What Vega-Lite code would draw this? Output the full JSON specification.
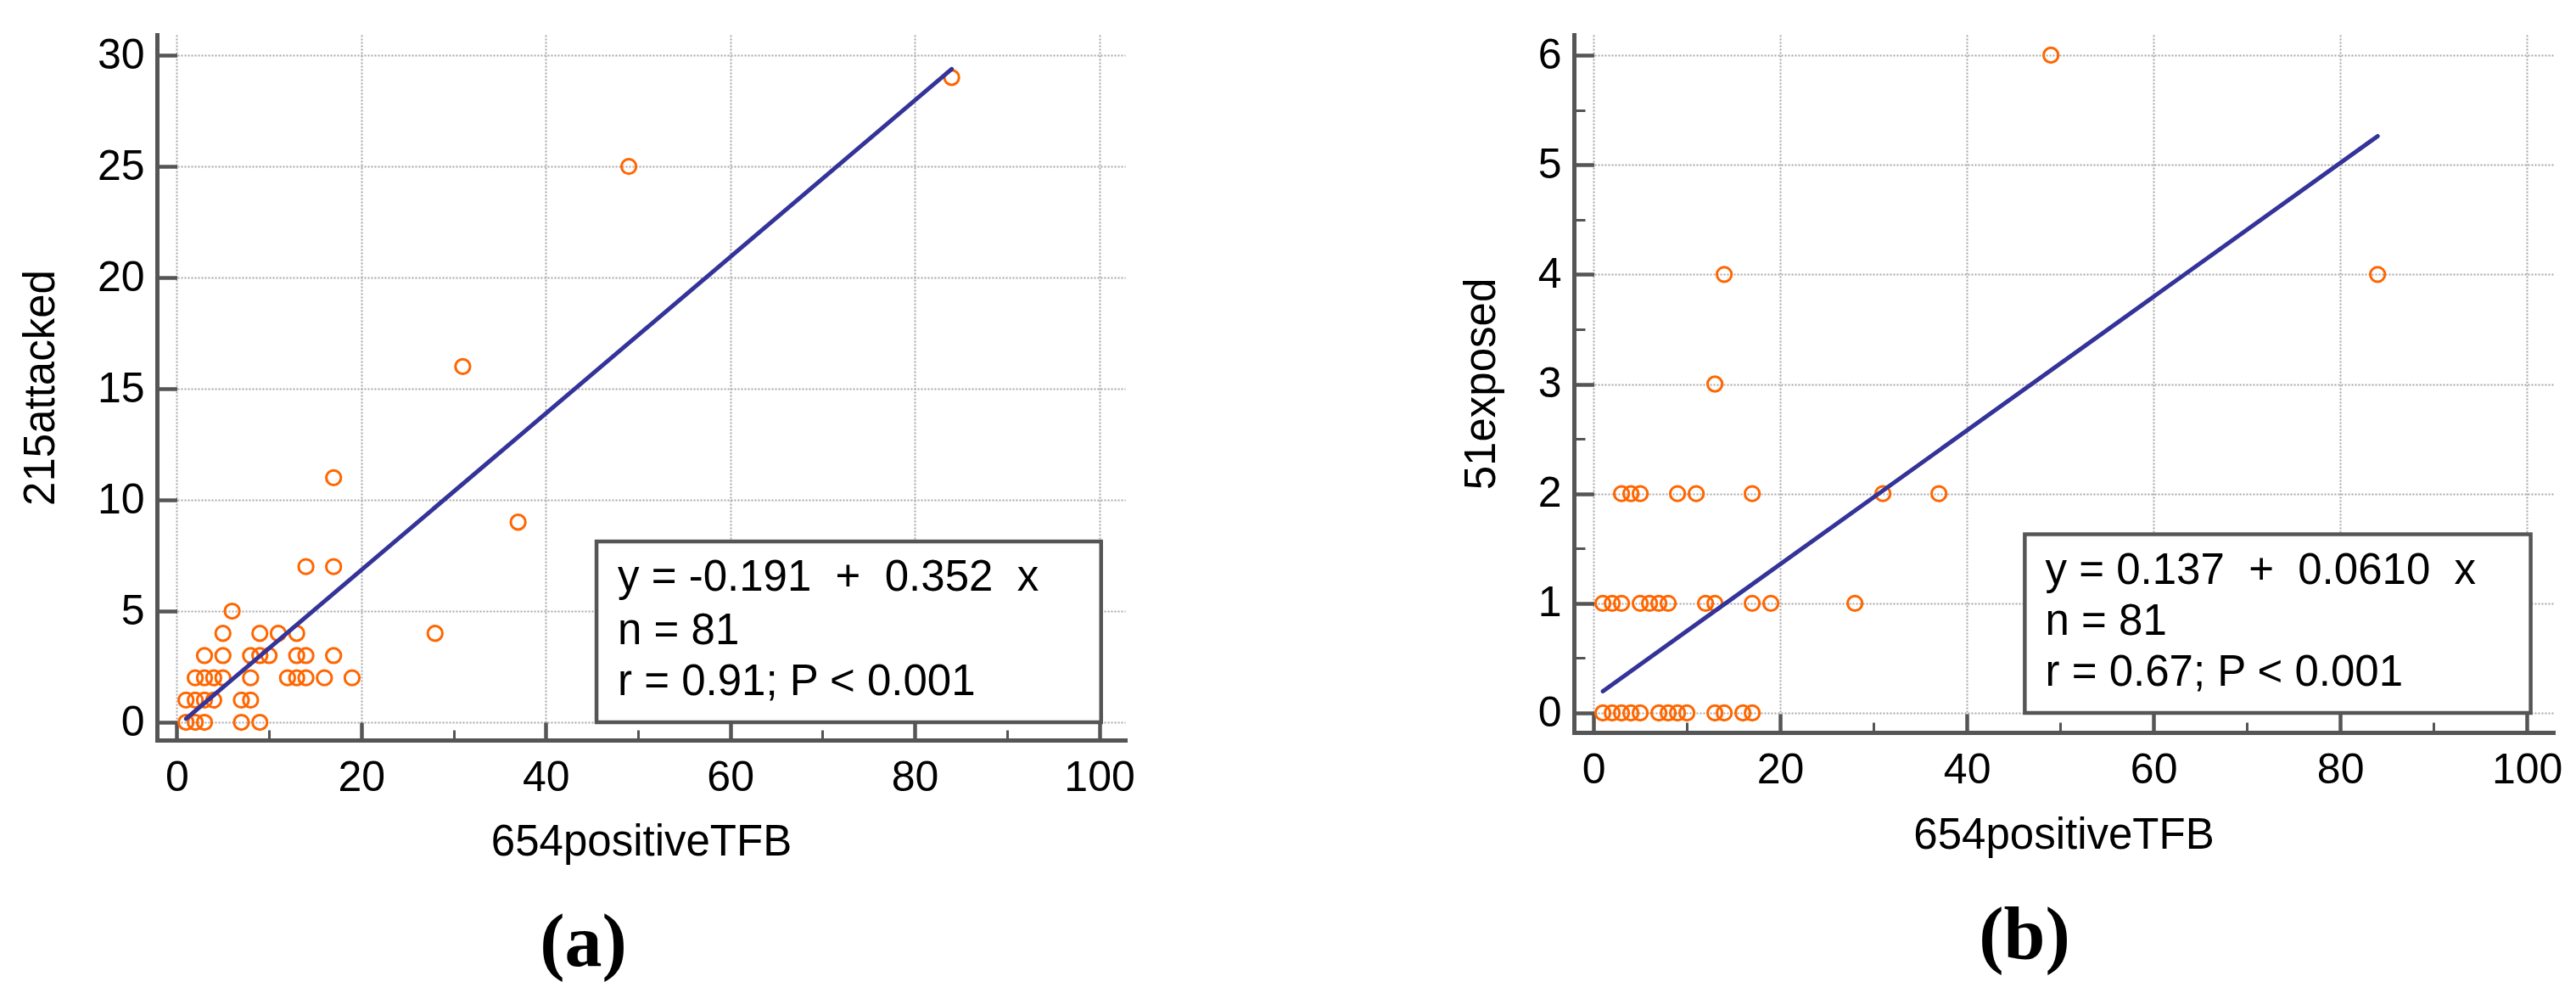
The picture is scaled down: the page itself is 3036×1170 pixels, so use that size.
{
  "$schema": "https://vega.github.io/schema/vega-lite/v6.json",
  "background": "white",
  "padding": {"left": 22, "top": 40, "right": 5, "bottom": 5},
  "bounds": "flush",
  "spacing": 529,
  "config": {
    "view": {"stroke": null},
    "axis": {
      "domainColor": "#555555", "domainWidth": 5, "domainCap": "square",
      "tickColor": "#555555",
      "gridColor": "#a8a8a8", "gridDash": [2, 2], "gridWidth": 2,
      "labelFont": "Liberation Sans", "labelFontSize": 50, "labelColor": "#000000",
      "titleFont": "Liberation Sans", "titleFontSize": 51, "titleFontWeight": "normal", "titleColor": "#000000",
      "labelFlush": false, "labelOverlap": false, "labelBound": false
    },
    "text": {"font": "Liberation Sans"}
  },
  "hconcat": [
    {
      "width": 1141,
      "height": 831,
      "title": {"text": "(a)", "orient": "bottom", "anchor": "middle", "frame": "group", "dx": -68, "offset": 50, "font": "Liberation Serif", "fontWeight": "bold", "fontSize": 88, "color": "#000000"},
      "layer": [
        {
          "data": {"values": [
            {"x": 84, "y": 29}, {"x": 49, "y": 25}, {"x": 31, "y": 16}, {"x": 37, "y": 9}, {"x": 17, "y": 11},
            {"x": 14, "y": 7}, {"x": 17, "y": 7}, {"x": 28, "y": 4}, {"x": 6, "y": 5},
            {"x": 5, "y": 4}, {"x": 9, "y": 4}, {"x": 11, "y": 4}, {"x": 13, "y": 4},
            {"x": 3, "y": 3}, {"x": 5, "y": 3}, {"x": 8, "y": 3}, {"x": 9, "y": 3}, {"x": 10, "y": 3}, {"x": 13, "y": 3}, {"x": 14, "y": 3}, {"x": 17, "y": 3},
            {"x": 2, "y": 2}, {"x": 3, "y": 2}, {"x": 4, "y": 2}, {"x": 5, "y": 2}, {"x": 8, "y": 2}, {"x": 12, "y": 2}, {"x": 13, "y": 2}, {"x": 14, "y": 2}, {"x": 16, "y": 2}, {"x": 19, "y": 2},
            {"x": 1, "y": 1}, {"x": 2, "y": 1}, {"x": 3, "y": 1}, {"x": 4, "y": 1}, {"x": 7, "y": 1}, {"x": 8, "y": 1},
            {"x": 1, "y": 0}, {"x": 2, "y": 0}, {"x": 3, "y": 0}, {"x": 7, "y": 0}, {"x": 9, "y": 0}
          ]},
          "mark": {"type": "point", "shape": "circle", "filled": false, "stroke": "#ff6600", "strokeWidth": 3, "size": 300, "opacity": 1},
          "encoding": {
            "x": {"field": "x", "type": "quantitative",
              "scale": {"domain": [-2.15, 102.8], "nice": false, "zero": false},
              "axis": {"title": "654positiveTFB", "values": [0, 10, 20, 30, 40, 50, 60, 70, 80, 90, 100],
                "labelExpr": "datum.value % 20 == 0 ? datum.label : ''",
                "tickSize": {"condition": {"test": "datum.value % 20 != 0", "value": -12}, "value": -21},
                "tickWidth": {"condition": {"test": "datum.value % 20 != 0", "value": 3}, "value": 4.5},
                "gridOpacity": {"condition": {"test": "datum.value % 20 != 0", "value": 0}, "value": 1},
                "labelPadding": 40.5, "titlePadding": 17, "grid": true}},
            "y": {"field": "y", "type": "quantitative",
              "scale": {"domain": [-0.8, 30.92], "nice": false, "zero": false},
              "axis": {"title": "215attacked", "values": [0, 5, 10, 15, 20, 25, 30],
                "tickSize": -23.5, "tickWidth": 4.5, "labelPadding": 38.5, "titlePadding": 40, "grid": true}}
          }
        },
        {
          "data": {"values": [{"x": 1, "y": 0.161}, {"x": 84, "y": 29.377}]},
          "mark": {"type": "line", "color": "#333399", "strokeWidth": 5, "strokeCap": "round"},
          "encoding": {"x": {"field": "x", "type": "quantitative"}, "y": {"field": "y", "type": "quantitative"}}
        },
        {
          "data": {"values": [{"x": 45.5, "x2": 100.2, "y": 0, "y2": 8.13}]},
          "mark": {"type": "rect", "fill": "#ffffff", "stroke": "#555555", "strokeWidth": 4.5},
          "encoding": {"x": {"field": "x", "type": "quantitative"}, "x2": {"field": "x2"}, "y": {"field": "y", "type": "quantitative"}, "y2": {"field": "y2"}}
        },
        {
          "data": {"values": [
            {"x": 47.8, "y": 5.91, "label": "y = -0.191\u00a0 +\u00a0 0.352\u00a0 x"},
            {"x": 47.8, "y": 3.53, "label": "n = 81"},
            {"x": 47.8, "y": 1.24, "label": "r = 0.91; P < 0.001"}
          ]},
          "mark": {"type": "text", "align": "left", "baseline": "alphabetic", "fontSize": 51, "font": "Liberation Sans", "color": "#000000"},
          "encoding": {"x": {"field": "x", "type": "quantitative"}, "y": {"field": "y", "type": "quantitative"}, "text": {"field": "label"}}
        }
      ]
    },
    {
      "width": 1154,
      "height": 822,
      "title": {"text": "(b)", "orient": "bottom", "anchor": "middle", "frame": "group", "dx": -46, "offset": 50, "font": "Liberation Serif", "fontWeight": "bold", "fontSize": 88, "color": "#000000"},
      "layer": [
        {
          "data": {"values": [
            {"x": 49, "y": 6}, {"x": 84, "y": 4}, {"x": 14, "y": 4}, {"x": 13, "y": 3},
            {"x": 3, "y": 2}, {"x": 4, "y": 2}, {"x": 5, "y": 2}, {"x": 9, "y": 2}, {"x": 11, "y": 2}, {"x": 17, "y": 2}, {"x": 31, "y": 2}, {"x": 37, "y": 2},
            {"x": 1, "y": 1}, {"x": 2, "y": 1}, {"x": 3, "y": 1}, {"x": 5, "y": 1}, {"x": 6, "y": 1}, {"x": 7, "y": 1}, {"x": 8, "y": 1}, {"x": 12, "y": 1}, {"x": 13, "y": 1}, {"x": 17, "y": 1}, {"x": 19, "y": 1}, {"x": 28, "y": 1},
            {"x": 1, "y": 0}, {"x": 2, "y": 0}, {"x": 3, "y": 0}, {"x": 4, "y": 0}, {"x": 5, "y": 0}, {"x": 7, "y": 0}, {"x": 8, "y": 0}, {"x": 9, "y": 0}, {"x": 10, "y": 0}, {"x": 13, "y": 0}, {"x": 14, "y": 0}, {"x": 16, "y": 0}, {"x": 17, "y": 0}
          ]},
          "mark": {"type": "point", "shape": "circle", "filled": false, "stroke": "#ff6600", "strokeWidth": 3, "size": 300, "opacity": 1},
          "encoding": {
            "x": {"field": "x", "type": "quantitative",
              "scale": {"domain": [-2.1, 102.8], "nice": false, "zero": false},
              "axis": {"title": "654positiveTFB", "values": [0, 10, 20, 30, 40, 50, 60, 70, 80, 90, 100],
                "labelExpr": "datum.value % 20 == 0 ? datum.label : ''",
                "tickSize": {"condition": {"test": "datum.value % 20 != 0", "value": -12}, "value": -22},
                "tickWidth": {"condition": {"test": "datum.value % 20 != 0", "value": 3}, "value": 4.5},
                "gridOpacity": {"condition": {"test": "datum.value % 20 != 0", "value": 0}, "value": 1},
                "labelPadding": 41.5, "titlePadding": 17, "grid": true}},
            "y": {"field": "y", "type": "quantitative",
              "scale": {"domain": [-0.178, 6.186], "nice": false, "zero": false},
              "axis": {"title": "51exposed", "values": [0, 0.5, 1, 1.5, 2, 2.5, 3, 3.5, 4, 4.5, 5, 5.5, 6],
                "labelExpr": "datum.value % 1 == 0 ? format(datum.value, 'd') : ''",
                "tickSize": {"condition": {"test": "datum.value % 1 != 0", "value": -13}, "value": -23.5},
                "tickWidth": {"condition": {"test": "datum.value % 1 != 0", "value": 3}, "value": 4.5},
                "gridOpacity": {"condition": {"test": "datum.value % 1 != 0", "value": 0}, "value": 1},
                "labelPadding": 38.5, "titlePadding": 40, "grid": true}}
          }
        },
        {
          "data": {"values": [{"x": 1, "y": 0.198}, {"x": 84, "y": 5.261}]},
          "mark": {"type": "line", "color": "#333399", "strokeWidth": 5, "strokeCap": "round"},
          "encoding": {"x": {"field": "x", "type": "quantitative"}, "y": {"field": "y", "type": "quantitative"}}
        },
        {
          "data": {"values": [{"x": 46.2, "x2": 100.4, "y": 0, "y2": 1.63}]},
          "mark": {"type": "rect", "fill": "#ffffff", "stroke": "#555555", "strokeWidth": 4.5},
          "encoding": {"x": {"field": "x", "type": "quantitative"}, "x2": {"field": "x2"}, "y": {"field": "y", "type": "quantitative"}, "y2": {"field": "y2"}}
        },
        {
          "data": {"values": [
            {"x": 48.4, "y": 1.178, "label": "y = 0.137\u00a0 +\u00a0 0.0610\u00a0 x"},
            {"x": 48.4, "y": 0.713, "label": "n = 81"},
            {"x": 48.4, "y": 0.248, "label": "r = 0.67; P < 0.001"}
          ]},
          "mark": {"type": "text", "align": "left", "baseline": "alphabetic", "fontSize": 51, "font": "Liberation Sans", "color": "#000000"},
          "encoding": {"x": {"field": "x", "type": "quantitative"}, "y": {"field": "y", "type": "quantitative"}, "text": {"field": "label"}}
        }
      ]
    }
  ]
}
